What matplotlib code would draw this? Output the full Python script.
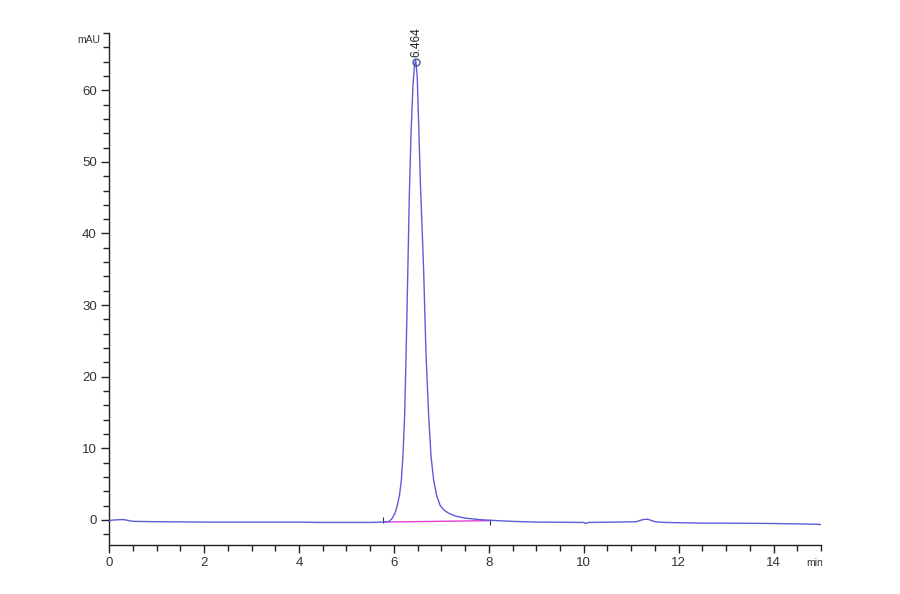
import numpy as np
import matplotlib.pyplot as plt
from matplotlib.ticker import MultipleLocator
from matplotlib.transforms import Bbox, TransformedBbox

plt.rcParams['font.family'] = ['Liberation Sans', 'DejaVu Sans']

# chromatogram trace (min, mAU)
time_min = [0.0, 0.1, 0.3, 0.5, 1.0, 2.0, 3.0, 4.0, 4.4, 5.0, 5.5, 5.76,
            5.85, 5.90, 5.96, 6.02, 6.07, 6.12, 6.157, 6.19, 6.227, 6.262,
            6.296, 6.325, 6.36, 6.40, 6.43, 6.457, 6.49, 6.52, 6.56, 6.60,
            6.625, 6.674, 6.729, 6.78, 6.836, 6.90, 6.976, 7.05, 7.15, 7.29, 7.5,
            7.8, 8.02, 8.5, 9.0, 10.0, 10.05, 10.1, 10.7, 11.1, 11.25, 11.35,
            11.5, 11.7, 12.5, 13.0, 14.0, 14.9, 15.0]
signal_mau = [-0.1, 0.0, 0.05, -0.2, -0.25, -0.3, -0.3, -0.3, -0.35, -0.35, -0.35, -0.3,
              -0.25, -0.2, 0.2, 0.9, 2.0, 3.6, 5.6, 9.0, 14.9, 25.0,
              36.0, 45.5, 54.0, 60.5, 63.3, 64.3, 62.0, 55.5, 46.5, 39.5,
              35.0, 23.5, 14.9, 9.0, 5.6, 3.4, 2.0, 1.4, 0.95, 0.55, 0.25,
              0.05, -0.05, -0.2, -0.3, -0.35, -0.5, -0.35, -0.3, -0.25, 0.05, 0.1,
              -0.25, -0.35, -0.45, -0.45, -0.5, -0.6, -0.65]

# integration baseline and peak marks
baseline_t = [5.78, 8.02]
baseline_y = [-0.3, -0.1]
peak_start = (5.76, -0.45, 0.45)
peak_end = (8.02, -0.75, 0.15)
peak_rt = 6.464
peak_h = 64.0
peak_label = '6.464'

fig = plt.figure(figsize=(9, 5.94), dpi=100)
ax = fig.add_axes([0.1214, 0.0825, 0.7908, 0.862])

ax.plot(time_min, signal_mau, color='#5c5cd8', lw=1.0, zorder=3)
ax.plot(baseline_t, baseline_y, color='#e040d8', lw=1.0, zorder=2)
ax.vlines([peak_start[0], peak_end[0]], [peak_start[1], peak_end[1]],
          [peak_start[2], peak_end[2]], color='#333333', lw=0.8)

ax.plot([peak_rt], [peak_h], 'o', ms=5, mfc='none', mec='#4a5890', mew=1.0, zorder=4)
ax.text(peak_rt, peak_h + 0.6, peak_label, rotation=90, ha='center', va='bottom',
        fontsize=8.5, color='#222222', clip_on=False)

ax.set_xlim(0, 15)
ax.set_ylim(-3.5, 68)
ax.xaxis.set_major_locator(MultipleLocator(2))
ax.xaxis.set_minor_locator(MultipleLocator(0.5))
ax.yaxis.set_major_locator(MultipleLocator(10))
ax.yaxis.set_minor_locator(MultipleLocator(2))

for s in ['top', 'right']:
    ax.spines[s].set_visible(False)
for s in ['left', 'bottom']:
    ax.spines[s].set_color('#222222')
    ax.spines[s].set_linewidth(1.0)

ax.tick_params(which='major', direction='out', length=6, width=1.0, color='#222222',
               labelsize=9.5, labelcolor='#333333', pad=3)
ax.tick_params(which='minor', direction='out', length=4, width=1.0, color='#222222')

fig.text(100 / 900, 1 - 40 / 594, 'mAU', ha='right', va='center', fontsize=7.5, color='#333333')
t = fig.text(806 / 900, 1 - 563 / 594, 'min', ha='left', va='center', fontsize=7.5, color='#333333')
t.set_clip_box(TransformedBbox(Bbox([[0, 0], [822 / 900, 1]]), fig.transFigure))
t.set_clip_on(True)

fig.savefig('out.png', dpi=100, facecolor='white')
